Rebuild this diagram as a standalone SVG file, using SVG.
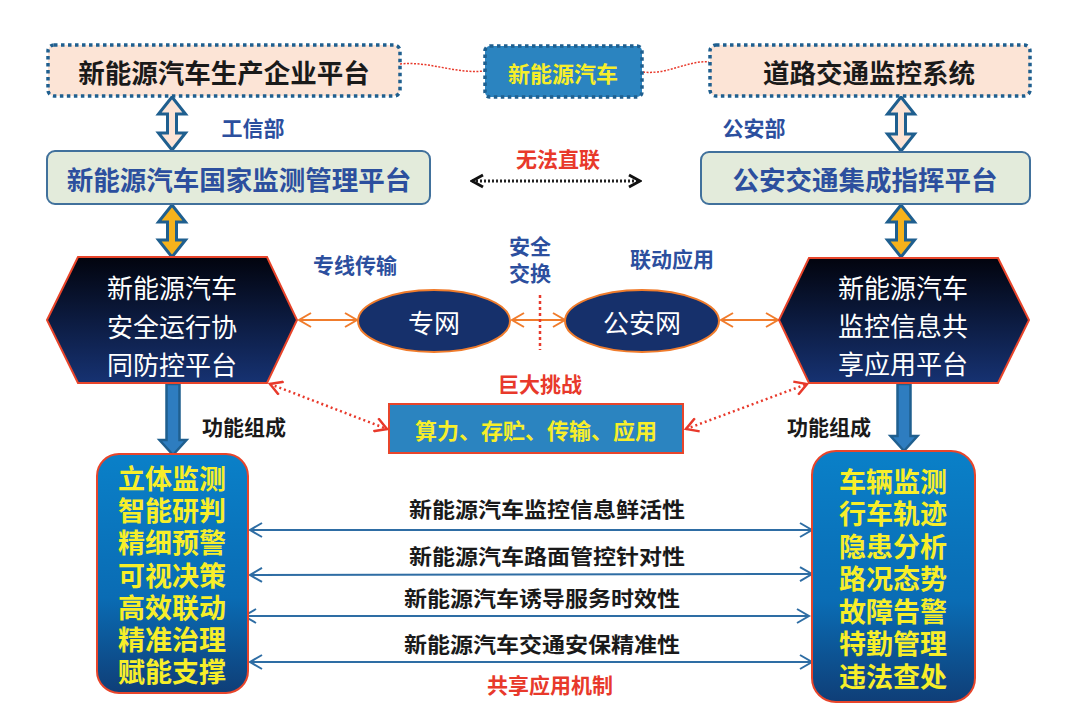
<svg xmlns="http://www.w3.org/2000/svg" width="1080" height="718" viewBox="0 0 1080 718">
<defs>
<style>
text{font-family:"Noto Sans CJK SC","Noto Sans",sans-serif;font-weight:bold;text-anchor:middle;dominant-baseline:central}
.big{font-size:26.5px}
.lbl{font-size:21px}
.blue{fill:#2c4f9e}
.red{fill:#e8392b}
.blk{fill:#1a1a1a}
.yel{fill:#f7ee2a}
.list{fill:#f7ee2a;font-size:27px;font-family:"Liberation Sans","Noto Sans CJK SC",sans-serif}
.wht{fill:#ffffff;font-weight:normal;font-size:26px}
.hx{font-family:"Liberation Sans","Noto Sans CJK SC",sans-serif}
.topbox{fill:#fce4d6;stroke:#1f5f8f;stroke-width:3.5;stroke-dasharray:3.5 3.5}
.midbox{fill:#e3ebdb;stroke:#41719c;stroke-width:2}
.hex{fill:url(#gHex);stroke:#e8452b;stroke-width:2}
.ell{fill:#16306b;stroke:#f07c2c;stroke-width:2}
.fbox{fill:url(#gBox);stroke:#e8452b;stroke-width:2}
.harrow{stroke:#1f5f8f;stroke-width:3;stroke-linejoin:miter}
</style>
<linearGradient id="gHex" x1="0" y1="0" x2="0" y2="1"><stop offset="0" stop-color="#02040e"/><stop offset="1" stop-color="#163272"/></linearGradient>
<linearGradient id="gBox" x1="0" y1="0" x2="0" y2="1"><stop offset="0" stop-color="#0a80c8"/><stop offset="0.6" stop-color="#0a6cb4"/><stop offset="1" stop-color="#0f3e77"/></linearGradient>
<marker id="mo" viewBox="0 0 16 16" refX="14" refY="8" markerWidth="16" markerHeight="16" markerUnits="userSpaceOnUse" orient="auto-start-reverse"><path d="M2,1 L14,8 L2,15" fill="none" stroke="#f07c2c" stroke-width="2"/></marker>
<marker id="mb" viewBox="0 0 16 16" refX="14" refY="8" markerWidth="16" markerHeight="16" markerUnits="userSpaceOnUse" orient="auto-start-reverse"><path d="M2,1 L14,8 L2,15" fill="none" stroke="#2e6da4" stroke-width="2"/></marker>
<marker id="mr" viewBox="0 0 16 16" refX="14" refY="8" markerWidth="16" markerHeight="16" markerUnits="userSpaceOnUse" orient="auto-start-reverse"><path d="M2,1 L14,8 L2,15" fill="none" stroke="#e8392b" stroke-width="2.5"/></marker>
<marker id="mk" viewBox="0 0 16 16" refX="14" refY="8" markerWidth="16" markerHeight="16" markerUnits="userSpaceOnUse" orient="auto-start-reverse"><path d="M3,2 L14,8 L3,14" fill="none" stroke="#111" stroke-width="3"/></marker>
</defs>
<rect width="1080" height="718" fill="#ffffff"/>

<g id="connectors">
<path d="M400,64 C430,61 455,74 484,71" fill="none" stroke="#e8392b" stroke-width="1.5" stroke-dasharray="2 1.5"/>
<path d="M643,72 C668,75 688,60 709,62" fill="none" stroke="#e8392b" stroke-width="1.5" stroke-dasharray="2 1.5"/>
<path class="harrow" fill="#fce4d6" d="M172,97 L185.5,114 L176.5,114 L176.5,133 L185.5,133 L172,150 L158.5,133 L167.5,133 L167.5,114 L158.5,114 Z"/>
<path class="harrow" fill="#fce4d6" d="M901,97 L914.5,114 L905.5,114 L905.5,134 L914.5,134 L901,151 L887.5,134 L896.5,134 L896.5,114 L887.5,114 Z"/>
<path class="harrow" fill="#f6b21b" d="M172,205 L185.5,222 L176.5,222 L176.5,240 L185.5,240 L172,257 L158.5,240 L167.5,240 L167.5,222 L158.5,222 Z"/>
<path class="harrow" fill="#f6b21b" d="M901,205 L914.5,222 L905.5,222 L905.5,240 L914.5,240 L901,257 L887.5,240 L896.5,240 L896.5,222 L887.5,222 Z"/>
<line x1="472" y1="181" x2="640" y2="181" stroke="#222" stroke-width="3" stroke-dasharray="2 2" marker-start="url(#mk)" marker-end="url(#mk)"/>
<line x1="299" y1="320" x2="357" y2="320" stroke="#f07c2c" stroke-width="2" marker-start="url(#mo)" marker-end="url(#mo)"/>
<line x1="512" y1="320" x2="565" y2="320" stroke="#f07c2c" stroke-width="2" marker-start="url(#mo)" marker-end="url(#mo)"/>
<line x1="721" y1="320" x2="778" y2="320" stroke="#f07c2c" stroke-width="2" marker-start="url(#mo)" marker-end="url(#mo)"/>
<line x1="540" y1="295" x2="540" y2="350" stroke="#e8392b" stroke-width="2.5" stroke-dasharray="3 3"/>
<line x1="270" y1="384" x2="387" y2="429" stroke="#e8392b" stroke-width="2.5" stroke-dasharray="2 3" marker-start="url(#mr)" marker-end="url(#mr)"/>
<line x1="686" y1="429" x2="807" y2="384" stroke="#e8392b" stroke-width="2.5" stroke-dasharray="2 3" marker-start="url(#mr)" marker-end="url(#mr)"/>
<path d="M166.5,384 L179.5,384 L179.5,440 L186.5,440 L173,455 L159.5,440 L166.5,440 Z" fill="#2e7dc0" stroke="#1f5f8f" stroke-width="2.5"/>
<path d="M897.5,384 L910.5,384 L910.5,436 L917.5,436 L904,451 L890.5,436 L897.5,436 Z" fill="#2e7dc0" stroke="#1f5f8f" stroke-width="2.5"/>
<line x1="250" y1="530" x2="812" y2="530" stroke="#2e6da4" stroke-width="2" marker-start="url(#mb)" marker-end="url(#mb)"/>
<line x1="250" y1="575" x2="812" y2="574" stroke="#2e6da4" stroke-width="2" marker-start="url(#mb)" marker-end="url(#mb)"/>
<line x1="244" y1="616" x2="809" y2="616" stroke="#2e6da4" stroke-width="2" marker-start="url(#mb)" marker-end="url(#mb)"/>
<line x1="250" y1="662" x2="812" y2="662" stroke="#2e6da4" stroke-width="2" marker-start="url(#mb)" marker-end="url(#mb)"/>
</g>

<g id="n-enterprise">
<rect class="topbox" x="48" y="45" width="352" height="51" rx="6"/>
<text class="big blk" x="224" y="71">新能源汽车生产企业平台</text>
</g>
<g id="n-nev">
<rect x="485" y="46" width="157" height="51" rx="5" fill="#2b84c0" stroke="#1f5f8f" stroke-width="3.5" stroke-dasharray="3.5 3.5"/>
<text class="lbl yel" x="563" y="72" style="font-size:22px">新能源汽车</text>
</g>
<g id="n-road">
<rect class="topbox" x="710" y="45" width="320" height="51" rx="6"/>
<text class="big blk" x="869" y="71">道路交通监控系统</text>
</g>
<text class="lbl blue" x="253" y="127">工信部</text>
<text class="lbl blue" x="754" y="127">公安部</text>

<g id="n-national">
<rect class="midbox" x="47" y="151" width="383" height="53" rx="8"/>
<text class="big blue" x="239" y="178">新能源汽车国家监测管理平台</text>
</g>
<g id="n-police">
<rect class="midbox" x="701" y="152" width="329" height="52" rx="8"/>
<text class="big blue" x="865" y="178">公安交通集成指挥平台</text>
</g>
<text class="lbl red" x="558" y="158">无法直联</text>

<g id="n-safety">
<polygon class="hex" points="78,257 267,257 297,320 267,383 78,383 47,320"/>
<text class="wht hx" x="172" y="289"><tspan x="172" y="289">新能源汽车</tspan><tspan x="172" y="328">安全运行协</tspan><tspan x="172" y="366">同防控平台</tspan></text>
</g>
<g id="n-share">
<polygon class="hex" points="809,258 998,258 1029,320 998,383 809,383 779,320"/>
<text class="wht hx" x="903" y="289"><tspan x="903" y="289">新能源汽车</tspan><tspan x="903" y="327">监控信息共</tspan><tspan x="903" y="365">享应用平台</tspan></text>
</g>
<text class="lbl blue" x="355" y="264">专线传输</text>
<text class="lbl blue hx" x="530" y="246"><tspan x="530" y="246">安全</tspan><tspan x="530" y="273">交换</tspan></text>
<text class="lbl blue" x="672" y="258">联动应用</text>

<g id="n-private">
<ellipse class="ell" cx="434" cy="321" rx="76" ry="31"/>
<text class="wht" x="434" y="321">专网</text>
</g>
<g id="n-policenet">
<ellipse class="ell" cx="642" cy="321" rx="77" ry="31"/>
<text class="wht" x="642" y="321">公安网</text>
</g>

<text class="lbl red" x="540" y="383">巨大挑战</text>
<g id="n-challenge">
<rect x="389" y="404" width="294" height="49" fill="#2b84c0" stroke="#e8452b" stroke-width="2"/>
<text class="lbl yel" x="536" y="429" style="font-size:22px">算力、存贮、传输、应用</text>
</g>
<text class="lbl blk" x="244" y="426">功能组成</text>
<text class="lbl blk" x="829" y="426">功能组成</text>

<g id="n-leftfunc">
<rect class="fbox" x="97" y="454" width="151" height="239" rx="22"/>
<text class="list" x="172" y="480"><tspan x="172" y="480">立体监测</tspan><tspan x="172" y="512">智能研判</tspan><tspan x="172" y="544">精细预警</tspan><tspan x="172" y="577">可视决策</tspan><tspan x="172" y="609">高效联动</tspan><tspan x="172" y="641">精准治理</tspan><tspan x="172" y="673">赋能支撑</tspan></text>
</g>
<g id="n-rightfunc">
<rect class="fbox" x="812" y="451" width="163" height="251" rx="24"/>
<text class="list" x="893" y="483"><tspan x="893" y="483">车辆监测</tspan><tspan x="893" y="515">行车轨迹</tspan><tspan x="893" y="548">隐患分析</tspan><tspan x="893" y="580">路况态势</tspan><tspan x="893" y="613">故障告警</tspan><tspan x="893" y="645">特勤管理</tspan><tspan x="893" y="678">违法查处</tspan></text>
</g>

<text class="blk" style="font-size:21px" x="547" y="508" textLength="276" lengthAdjust="spacingAndGlyphs">新能源汽车监控信息鲜活性</text>
<text class="blk" style="font-size:21px" x="547" y="555" textLength="276" lengthAdjust="spacingAndGlyphs">新能源汽车路面管控针对性</text>
<text class="blk" style="font-size:21px" x="542" y="597" textLength="276" lengthAdjust="spacingAndGlyphs">新能源汽车诱导服务时效性</text>
<text class="blk" style="font-size:21px" x="542" y="643" textLength="276" lengthAdjust="spacingAndGlyphs">新能源汽车交通安保精准性</text>
<text class="lbl red" x="550" y="684">共享应用机制</text>
</svg>
